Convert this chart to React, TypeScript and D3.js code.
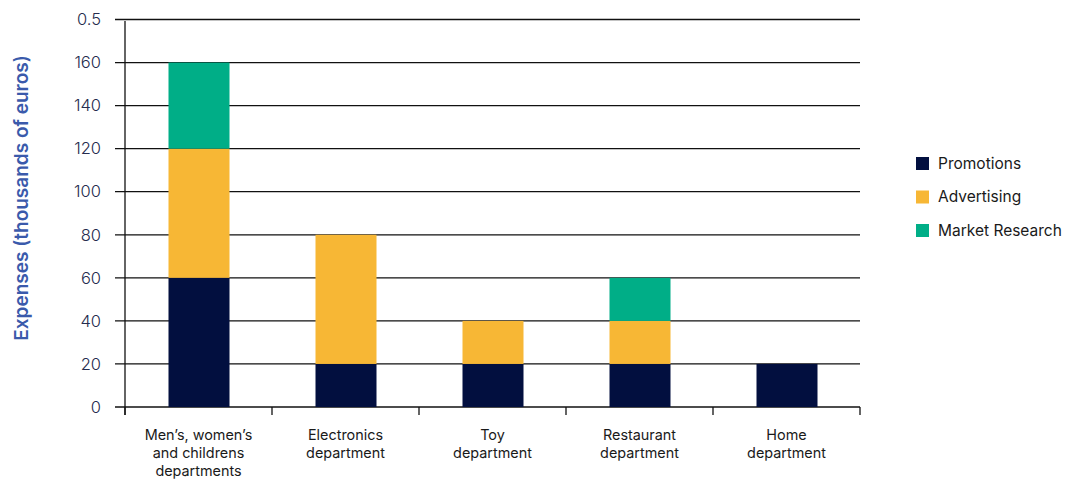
import React from "react";
import * as d3 from "d3";

const categories = [
  ["Men’s, women’s", "and childrens", "departments"],
  ["Electronics", "department"],
  ["Toy", "department"],
  ["Restaurant", "department"],
  ["Home", "department"],
];
const seriesNames = ["Promotions", "Advertising", "Market Research"];
const promotions = [60, 20, 20, 20, 20];
const advertising = [60, 60, 20, 20, 0];
const marketResearch = [40, 0, 0, 20, 0];
const tickValues = [0, 20, 40, 60, 80, 100, 120, 140, 160, 180];
const tickLabels = ["0", "20", "40", "60", "80", "100", "120", "140", "160", "0.5"];
const colors = ["#020f3f", "#f7b735", "#00ae87"];

export default function App() {
  const W = 1065, H = 479;
  const left = 125, right = 860, top = 19.5, bottom = 407;
  const x = d3.scaleBand<number>().domain(categories.map((_, i) => i)).range([left, right]).padding(0);
  const y = d3.scaleLinear().domain([0, 180]).range([bottom, top]);
  const rows = categories.map((_, i) => ({ i, p: promotions[i], a: advertising[i], m: marketResearch[i] }));
  const stack = d3.stack<any>().keys(["p", "a", "m"])(rows);
  const barW = 61;
  const font = "Inter, 'Open Sans', sans-serif";
  return (
    <svg width={W} height={H} style={{ position: "absolute", left: 0, top: 0 }} fontFamily={font}>
      {tickValues.map((t, k) => (
        <g key={t}>
          <line x1={115} x2={right} y1={y(t)} y2={y(t)} stroke="#111" strokeWidth={1.3} />
          <text x={101} y={y(t)} dy="0.35em" textAnchor="end" fontSize={16.5} fill="#262c4e" fontWeight={300}>
            {tickLabels[k]}
          </text>
        </g>
      ))}
      {stack.map((s, si) =>
        s.map((d, ci) =>
          d[1] - d[0] > 0 ? (
            <rect key={si + "-" + ci}
              x={(x(ci) as number) + x.bandwidth() / 2 - barW / 2 + 0.5}
              width={barW}
              y={y(d[1])}
              height={y(d[0]) - y(d[1])}
              fill={colors[si]} />
          ) : null
        )
      )}
      <line x1={left} x2={left} y1={21} y2={415} stroke="#111" strokeWidth={1.3} />
      {[...categories.map((_, i) => x(i) as number), right].map((xx, k) => (
        <line key={k} x1={xx} x2={xx} y1={bottom} y2={415} stroke="#111" strokeWidth={1.3} />
      ))}
      {categories.map((lines, i) => (
        <text key={i} x={(x(i) as number) + x.bandwidth() / 2} y={440} textAnchor="middle" fontSize={14.4} fill="#1a1a1a">
          {lines.map((l, j) => (
            <tspan key={j} x={(x(i) as number) + x.bandwidth() / 2} dy={j === 0 ? 0 : 18}>{l}</tspan>
          ))}
        </text>
      ))}
      <text transform="translate(28,198) rotate(-90)" textAnchor="middle" fontSize={19} fontWeight={600} fill="#3a5aab">
        Expenses (thousands of euros)
      </text>
      {seriesNames.map((n, i) => (
        <g key={n} transform={`translate(916,${157 + i * 33.5})`}>
          <rect width={13} height={13} fill={colors[i]} />
          <text x={22} y={6.5} dy="0.35em" fontSize={15.5} fill="#1a1a1a">{n}</text>
        </g>
      ))}
    </svg>
  );
}
